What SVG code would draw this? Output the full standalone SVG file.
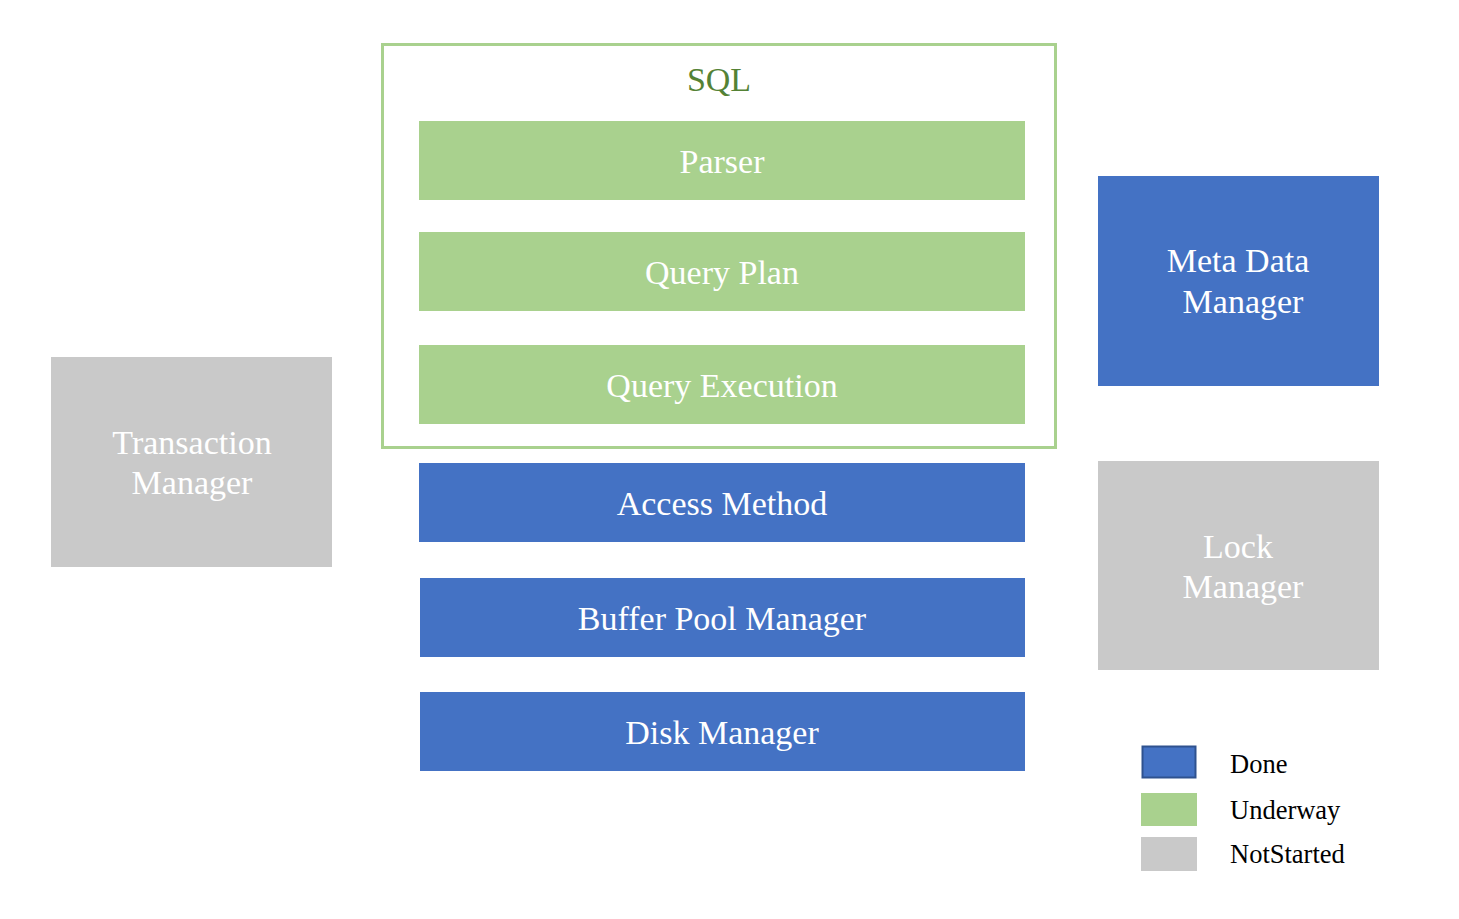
<svg xmlns="http://www.w3.org/2000/svg" width="1459" height="919" viewBox="0 0 1459 919">
<style>
.done{fill:#4472C4}
.under{fill:#A9D18E}
.not{fill:#C9C9C9}
.t{font-family:"Liberation Serif","Times New Roman",serif;font-size:34px;fill:#FFFFFF;text-anchor:middle}
.lg{font-family:"Liberation Serif","Times New Roman",serif;font-size:26.5px;fill:#000000}
</style>
<rect width="1459" height="919" fill="#FFFFFF"/>
<g id="sql">
<rect x="382.5" y="44.5" width="673" height="403" fill="none" stroke="#A9D18E" stroke-width="3"/>
<text x="719" y="91" class="t" style="fill:#548235">SQL</text>
</g>
<g id="parser"><rect x="419" y="121" width="606" height="79" class="under"/><text x="722" y="173" class="t">Parser</text></g>
<g id="queryplan"><rect x="419" y="232" width="606" height="79" class="under"/><text x="722" y="284" class="t">Query Plan</text></g>
<g id="queryexec"><rect x="419" y="345" width="606" height="79" class="under"/><text x="722" y="397" class="t">Query Execution</text></g>
<g id="access"><rect x="419" y="463" width="606" height="79" class="done"/><text x="722" y="515" class="t">Access Method</text></g>
<g id="buffer"><rect x="420" y="578" width="605" height="79" class="done"/><text x="722" y="630" class="t">Buffer Pool Manager</text></g>
<g id="disk"><rect x="420" y="692" width="605" height="79" class="done"/><text x="722" y="744" class="t">Disk Manager</text></g>
<g id="meta"><rect x="1098" y="176" width="281" height="210" class="done"/><text x="1238" y="272" class="t">Meta Data</text><text x="1243" y="313" class="t">Manager</text></g>
<g id="lock"><rect x="1098" y="461" width="281" height="209" class="not"/><text x="1238" y="558" class="t">Lock</text><text x="1243" y="598" class="t">Manager</text></g>
<g id="txn"><rect x="51" y="357" width="281" height="210" class="not"/><text x="192" y="454" class="t">Transaction</text><text x="192" y="494" class="t">Manager</text></g>
<g id="legend">
<rect x="1142.5" y="746.5" width="53" height="31" class="done" stroke="#2F528F" stroke-width="2"/>
<text x="1230" y="773" class="lg">Done</text>
<rect x="1141" y="793" width="56" height="33" class="under"/>
<text x="1230" y="819" class="lg">Underway</text>
<rect x="1141" y="837" width="56" height="34" class="not"/>
<text x="1230" y="863" class="lg">NotStarted</text>
</g>
<g id="connectors"></g>
</svg>
